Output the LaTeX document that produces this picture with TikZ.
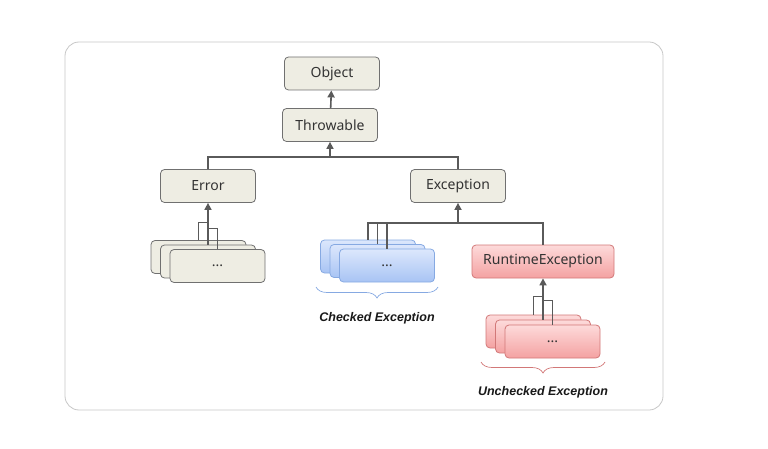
\documentclass[tikz,border=0pt]{standalone}
\usepackage{fontspec}
\setmainfont{Noto Sans}
\newfontfamily\grpfont{Liberation Sans}
\usetikzlibrary{arrows.meta, calc, decorations.pathreplacing}

\definecolor{boxfill}{HTML}{EEEDE3}
\definecolor{boxline}{HTML}{707070}
\definecolor{linkgray}{HTML}{5A5A5A}
\definecolor{bluetop}{HTML}{DCE7FC}
\definecolor{bluebot}{HTML}{A8C4F4}
\definecolor{blueline}{HTML}{86A9E2}
\definecolor{redtop}{HTML}{FDDADA}
\definecolor{redbot}{HTML}{F4A2A2}
\definecolor{redline}{HTML}{D27878}

\tikzset{
  cls/.style={draw=boxline, fill=boxfill, rounded corners=4pt, line width=0.8pt,
    minimum width=95pt, minimum height=33pt, font=\fontsize{14}{16}\selectfont, text=black!80},
  chkbox/.style={cls, draw=blueline, fill=none, top color=bluetop, bottom color=bluebot},
  unchkbox/.style={cls, draw=redline, fill=none, top color=redtop, bottom color=redbot},
  link/.style={draw=linkgray, line width=1.6pt},
  isa/.style={link, -{Triangle[length=7pt,width=7pt]}},
  grp/.style={decorate, decoration={brace, amplitude=11pt}, line width=0.7pt},
  grplabel/.style={font=\grpfont\fontsize{12.5}{14}\selectfont\bfseries\itshape, text=black!90}
}

\begin{document}
\begin{tikzpicture}[x=1pt, y=-1pt]
\useasboundingbox (0,0) rectangle (768,449);
% frame
\draw[draw=black!22, line width=0.8pt, rounded corners=14pt] (65,42) rectangle (663,410);

% main hierarchy
\node[cls] (obj) at (332,73.5) {Object};
\node[cls] (thr) at (330,125) {Throwable};
\node[cls] (err) at (208,186) {Error};
\node[cls] (exc) at (458,186) {Exception};
\node[cls, draw=redline, fill=none, top color=redtop, bottom color=redbot,
  minimum width=142pt] (rte) at (543,261.5) {RuntimeException};

% stacked subclasses
\foreach \i in {1,2,3} {
  \node[cls] (err\i) at ({198.5+9.5*(\i-1)},{257+4.5*(\i-1)}) {\ifnum\i=3 ...\fi};
  \node[chkbox] (chk\i) at ({368+9.5*(\i-1)},{256.5+4.5*(\i-1)}) {\ifnum\i=3 ...\fi};
  \node[unchkbox] (unc\i) at ({533.5+9.5*(\i-1)},{331.5+5*(\i-1)}) {\ifnum\i=3 ...\fi};
}

% connectors
\draw[isa] (thr) -- (obj);
\coordinate (tj) at (thr.south |- 0,157);
\draw[link] (err.north) |- (tj) -| (exc.north);
\draw[isa] (tj) -- (thr.south);

\draw[link] (err1.north) |- ($(err2.north)+(0,-22)$);
\draw[link] (err3.north) |- ($(err2.north)+(0,-16)$);
\draw[isa] (err2.north) -- (err.south);

\coordinate (cj) at (exc.south |- 0,223);
\foreach \i in {1,2,3} \draw[link] (chk\i.north) |- (cj);
\draw[link] (rte.north) |- (cj);
\draw[isa] (cj) -- (exc.south);

\draw[link] (unc1.north) |- ($(unc2.north)+(0,-23)$);
\draw[link] (unc3.north) |- ($(unc2.north)+(0,-19)$);
\draw[isa] (unc2.north) -- (rte.south);

% groups
\draw[grp, draw=blueline] (438,287) -- (316,287);
\node[grplabel] (chklbl) at (377,318) {Checked Exception};
\draw[grp, draw=redline] (605,362) -- (481,362);
\node[grplabel] (unclbl) at (543,392) {Unchecked Exception};
\end{tikzpicture}
\end{document}
